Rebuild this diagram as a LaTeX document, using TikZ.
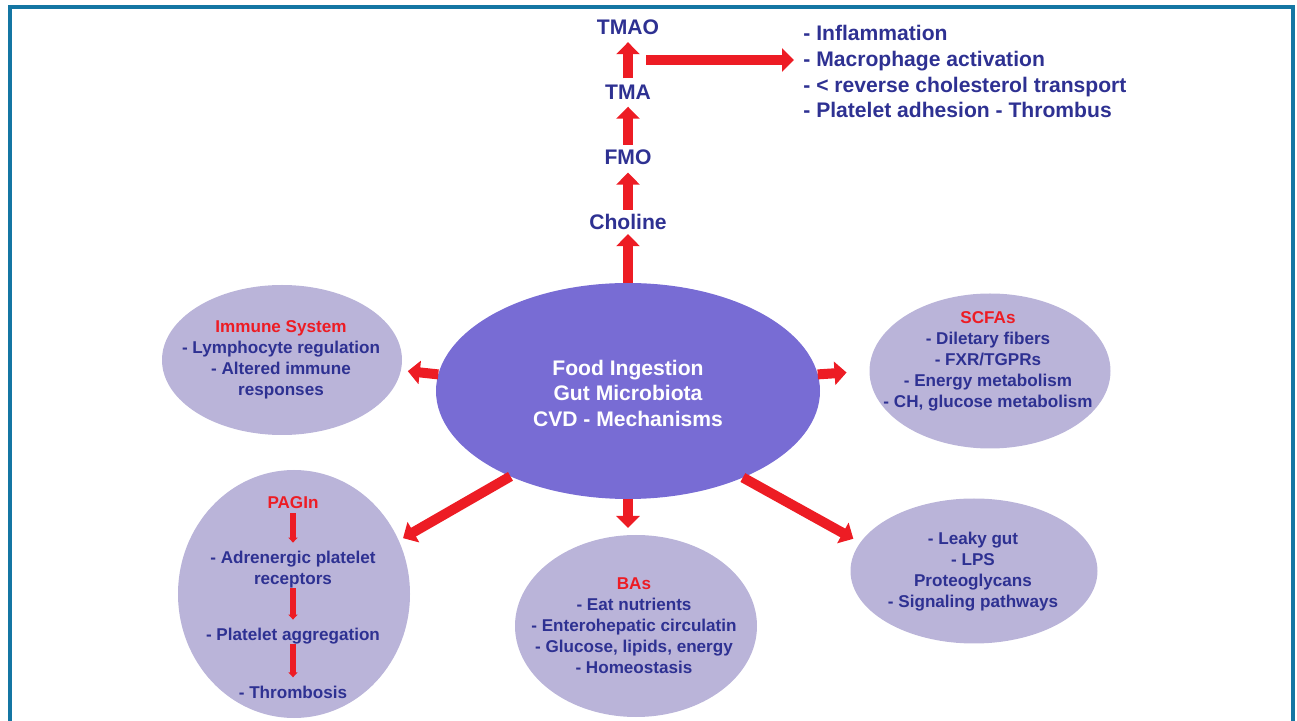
\documentclass[tikz,border=0pt]{standalone}
\usepackage{fontspec}
\setmainfont{Liberation Sans}
\usetikzlibrary{shapes.geometric,arrows.meta,positioning}
\definecolor{hubblue}{RGB}{120,108,212}
\definecolor{satlilac}{RGB}{186,180,217}
\definecolor{inkblue}{RGB}{46,49,146}
\definecolor{arrowred}{RGB}{237,28,36}
\definecolor{framecol}{RGB}{20,118,163}
\tikzset{
    hubnode/.style   = {ellipse, fill=hubblue, inner sep=0pt, outer sep=0pt},
    satnode/.style   = {ellipse, fill=satlilac, inner sep=0pt, outer sep=0pt},
    smalltext/.style = {align=center, text=inkblue, inner sep=0pt, font=\bfseries\fontsize{8.55}{10.5}\selectfont},
    bigtext/.style   = {align=center, text=inkblue, inner sep=2pt, font=\bfseries\fontsize{10.55}{12.75}\selectfont},
    bigarrow/.style  = {arrowred, line width=5pt, -{Triangle[length=6pt,width=11.5pt]}},
    thinarrow/.style = {arrowred, line width=2.8pt, -{Triangle[length=2.5pt,width=4.5pt]}, shorten >=4pt},
}

\begin{document}
\begin{tikzpicture}[x=0.5pt, y=-0.5pt]
        \useasboundingbox (0,0) rectangle (1297,721);
        \draw[framecol, line width=1.6pt] (10,721) -- (10,7) -- (1293,7) -- (1293,721);

        % ellipses
        \node[hubnode, minimum width=192pt, minimum height=108pt] (hub) at (628,391) {};
        \node[satnode, minimum width=120pt, minimum height=75pt] (immune) at (282,360) {};
        \node[satnode, minimum width=120.5pt, minimum height=77.5pt] (scfa) at (990,371) {};
        \node[satnode, minimum width=116pt, minimum height=124pt] (pagin) at (294,594) {};
        \node[satnode, minimum width=121pt, minimum height=91pt] (bas) at (636,626) {};
        \node[satnode, minimum width=123.5pt, minimum height=72.5pt] (leaky) at (974,571) {};

        % texts
        \node[bigtext, text=white] (hubtext) at (628,393) {Food Ingestion\\Gut Microbiota\\CVD - Mechanisms};
        \node[smalltext] (immunetext) at (281,360) {\textcolor{arrowred}{Immune System}\\- Lymphocyte regulation\\- Altered immune\\responses};
        \node[smalltext] (scfatext) at (988,361) {\textcolor{arrowred}{SCFAs}\\- Diletary fibers\\- FXR/TGPRs\\- Energy metabolism\\- CH, glucose metabolism};
        \node[smalltext] (bastext) at (634,626) {\textcolor{arrowred}{BAs}\\- Eat nutrients\\- Enterohepatic circulatin\\- Glucose, lipids, energy\\- Homeostasis};
        \node[smalltext] (leakytext) at (973,572) {- Leaky gut\\- LPS\\Proteoglycans\\- Signaling pathways};
        \node[smalltext, text=arrowred] (pagtitle) at (293,503) {PAGIn};
        \node[smalltext] (pagreceptor) at (293,569.5) {- Adrenergic platelet\\receptors};
        \node[smalltext] (pagaggr) at (293,636) {- Platelet aggregation};
        \node[smalltext] (pagthromb) at (293,692) {- Thrombosis};

        % TMAO chain
        \node[bigtext] (choline) at (628,222) {Choline};
        \node[bigtext, above=20.6pt of choline] (fmo) {FMO};
        \node[bigtext, above=20.6pt of fmo] (tma) {TMA};
        \node[bigtext, above=20.6pt of tma] (tmao) {TMAO};
        \node[bigtext, anchor=base west] (eff1) at (799,41) {- Inflammation};
        \node[bigtext, anchor=base west] (eff2) at (799,67) {- Macrophage activation};
        \node[bigtext, anchor=base west] (eff3) at (799,93) {- < reverse cholesterol transport};
        \node[bigtext, anchor=base west] (eff4) at (799,118) {- Platelet adhesion - Thrombus};
        \coordinate (fork) at (646,60);

        \draw[bigarrow] (hub.north) -- (choline);
        \draw[bigarrow, shorten >=2pt] (choline) -- (fmo);
        \draw[bigarrow, shorten >=1.5pt] (fmo) -- (tma);
        \draw[bigarrow, shorten <=1pt, shorten >=1.5pt] (tma) -- (tmao);
        \draw[bigarrow, shorten >=2.5pt] (fork) -- (fork -| eff2.west);

        % arrows to the satellites
        \draw[bigarrow, shorten >=3.5pt] (hub.175) -- (immune.-5);
        \draw[bigarrow, shorten >=11.5pt] (hub.5) -- (scfa.180);
        \draw[bigarrow, shorten >=2.5pt] (hub.216) -- (pagin.27);
        \draw[bigarrow, shorten >=3.5pt] (hub.south) -- (hub.south |- bas.north);
        \draw[bigarrow, shorten >=4pt] (hub.323) -- (leaky.166);

        \draw[thinarrow, shorten <=2pt] (pagtitle) -- (pagreceptor);
        \draw[thinarrow] (pagreceptor) -- (pagaggr);
        \draw[thinarrow] (pagaggr) -- (pagthromb);
    \end{tikzpicture}
\end{document}
